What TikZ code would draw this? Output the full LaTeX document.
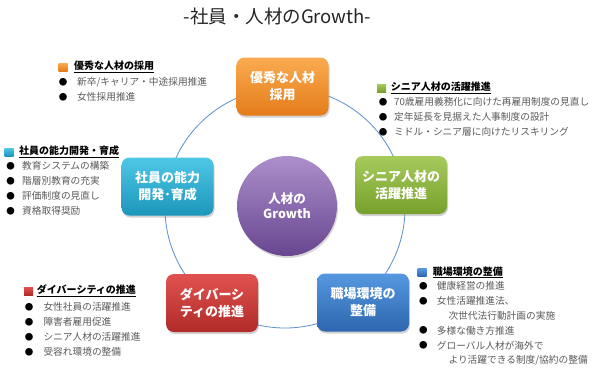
\documentclass[tikz,border=0pt]{standalone}
\usepackage{fontspec}
\setmainfont{Noto Sans CJK JP}
\usetikzlibrary{shadows}
\definecolor{ringc}{HTML}{5B8FD0}
\definecolor{orT}{HTML}{FAAB50}\definecolor{orB}{HTML}{E47C1A}
\definecolor{grT}{HTML}{A6CB5C}\definecolor{grB}{HTML}{77A02B}
\definecolor{cyT}{HTML}{4EC7E7}\definecolor{cyB}{HTML}{1C96BA}
\definecolor{rdT}{HTML}{E1524F}\definecolor{rdB}{HTML}{B02B29}
\definecolor{blT}{HTML}{5698E0}\definecolor{blB}{HTML}{2C66AE}
\definecolor{puT}{HTML}{AC8FCB}\definecolor{puB}{HTML}{684690}
\definecolor{txtgray}{HTML}{5A5A5A}
\tikzset{
  box/.style={rounded corners=8pt, minimum width=92pt, minimum height=58pt, inner sep=0pt,
    text=white, align=center, font=\bfseries\fontsize{13}{17}\selectfont,
    drop shadow={opacity=0.35, shadow xshift=1pt, shadow yshift=-2pt}},
  icon/.style={minimum width=9pt, minimum height=8pt, inner sep=0pt},
  head/.style={anchor=west, inner sep=0pt, font=\bfseries\fontsize{10}{12}\selectfont},
  bul/.style={inner sep=0pt, font=\fontsize{8.5}{8.5}\selectfont},
  item/.style={anchor=west, inner sep=0pt, text=txtgray, font=\fontsize{9.7}{12}\selectfont},
}
\begin{document}
\begin{tikzpicture}[x=1pt,y=-1pt]
\useasboundingbox[fill=white] (0,0) rectangle (597,368);
% title
\node[inner sep=0pt, font=\fontsize{18.5}{20}\selectfont, text=black!85] (title) at (277.5,16) {-社員・人材のGrowth-};
% ring
\node[circle, draw=ringc, line width=0.8pt, minimum size=240pt, inner sep=0pt] (ring) at (285,208) {};
% center
\node[circle, minimum size=100pt, inner sep=0pt, top color=puT, bottom color=puB, text=white,
  align=center, font=\bfseries\fontsize{12.5}{15}\selectfont,
  drop shadow={opacity=0.3, shadow xshift=1pt, shadow yshift=-2pt}] (core) at (287,206) {人材の\\Growth};
% boxes
\node[box, top color=orT, bottom color=orB] (b1) at (282.5,86.5) {優秀な人材\\採用};
\node[box, top color=grT, bottom color=grB] (b2) at (401,185) {シニア人材の\\活躍推進};
\node[box, top color=blT, bottom color=blB] (b3) at (363,302.5) {職場環境の\\整備};
\node[box, top color=rdT, bottom color=rdB] (b4) at (212,303) {ダイバーシ\\ティの推進};
\node[box, top color=cyT, bottom color=cyB] (b5) at (167.5,186.5) {社員の能力\\開発･育成};
% legend 1
\node[icon, top color=orT, bottom color=orB] (i1) at (63,67) {};
\node[head] (h1) at (74,67) {\underline{優秀な人材の採用}};
\node[bul] (p11) at (63,82) {●}; \node[item] (t11) at (77,82) {新卒/キャリア・中途採用推進};
\node[bul] (p12) at (63,97) {●}; \node[item] (t12) at (77,97) {女性採用推進};
% legend 2
\node[icon, top color=cyT, bottom color=cyB] (i2) at (9,152) {};
\node[head] (h2) at (19,152) {\underline{社員の能力開発・育成}};
\node[bul] (p21) at (10.7,166) {●}; \node[item] (t21) at (22,166) {教育システムの構築};
\node[bul] (p22) at (10.7,181) {●}; \node[item] (t22) at (22,181) {階層別教育の充実};
\node[bul] (p23) at (10.7,196) {●}; \node[item] (t23) at (22,196) {評価制度の見直し};
\node[bul] (p24) at (10.7,211) {●}; \node[item] (t24) at (22,211) {資格取得奨励};
% legend 3
\node[icon, top color=grT, bottom color=grB] (i3) at (381.5,88) {};
\node[head] (h3) at (390.7,88) {\underline{シニア人材の活躍推進}};
\node[bul] (p31) at (383,102) {●}; \node[item] (t31) at (394,102) {70歳雇用義務化に向けた再雇用制度の見直し};
\node[bul] (p32) at (383,117) {●}; \node[item] (t32) at (394,117) {定年延長を見据えた人事制度の設計};
\node[bul] (p33) at (383,132) {●}; \node[item] (t33) at (394,132) {ミドル・シニア層に向けたリスキリング};
% legend 4
\node[icon, top color=rdT, bottom color=rdB] (i4) at (28.5,291) {};
\node[head] (h4) at (36.7,291) {\underline{ダイバーシティの推進}};
\node[bul] (p41) at (29,307) {●}; \node[item] (t41) at (43.3,307) {女性社員の活躍推進};
\node[bul] (p42) at (29,322) {●}; \node[item] (t42) at (43.3,322) {障害者雇用促進};
\node[bul] (p43) at (29,337) {●}; \node[item] (t43) at (43.3,337) {シニア人材の活躍推進};
\node[bul] (p44) at (29,352) {●}; \node[item] (t44) at (43.3,352) {受容れ環境の整備};
% legend 5
\node[icon, top color=blT, bottom color=blB] (i5) at (422,272.5) {};
\node[head] (h5) at (432.7,272.5) {\underline{職場環境の整備}};
\node[bul] (p51) at (423.3,286) {●}; \node[item] (t51) at (436.7,286) {健康経営の推進};
\node[bul] (p52) at (423.3,301) {●}; \node[item] (t52) at (436.7,301) {女性活躍推進法、};
\node[item] (t53) at (448.3,316) {次世代法行動計画の実施};
\node[bul] (p54) at (423.3,330.5) {●}; \node[item] (t54) at (436.7,330.5) {多様な働き方推進};
\node[bul] (p55) at (423.3,345.5) {●}; \node[item] (t55) at (436.7,345.5) {グローバル人材が海外で};
\node[item] (t56) at (448.3,360) {より活躍できる制度/協約の整備};
\end{tikzpicture}
\end{document}
